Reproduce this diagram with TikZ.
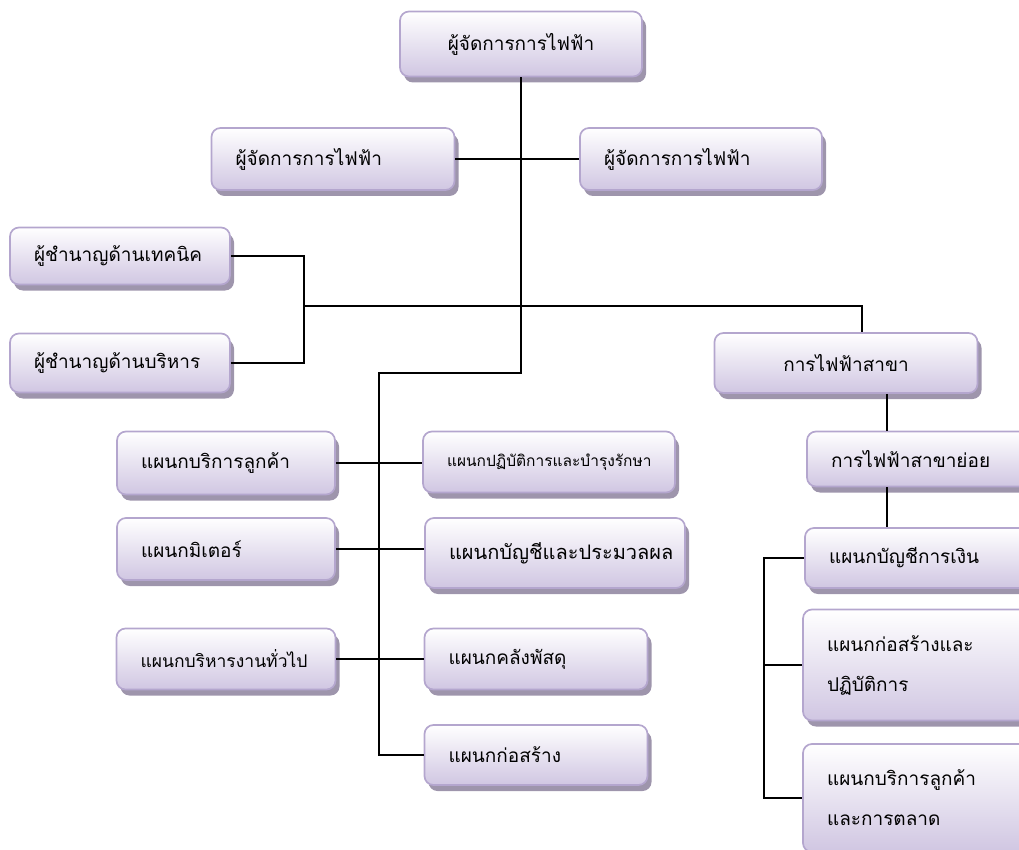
\documentclass[tikz,border=0pt]{standalone}
\usepackage{fontspec}
\newfontfamily\thaifont[Script=Thai]{Loma}
\usetikzlibrary{shadows, positioning}
\definecolor{unitedge}{RGB}{180,166,206}
\definecolor{unitlow}{RGB}{208,198,226}
\definecolor{unitshade}{RGB}{158,149,172}
\tikzstyle{unit} = [draw=unitedge, line width=1.7pt, rounded corners=9pt, top color=white, bottom color=unitlow, drop shadow={shadow xshift=4pt, shadow yshift=-6pt, fill=unitshade, opacity=1}, font=\thaifont\fontsize{19}{24}\selectfont, align=left, inner xsep=24pt, inner ysep=0pt]
\tikzstyle{link} = [draw=black, line width=1.9pt]

\begin{document}
\begin{tikzpicture}[x=1pt, y=-1pt]
  \useasboundingbox (0,0) rectangle (1019,850);
  \node[unit, align=center, text width=194, minimum height=65] (mgr) at (521,44) {ผู้จัดการการไฟฟ้า};
  \node[unit, text width=195, minimum height=62] (dmgrL) at (333,159) {ผู้จัดการการไฟฟ้า};
  \node[unit, text width=194, minimum height=62] (dmgrR) at (701,159) {ผู้จัดการการไฟฟ้า};
  \node[unit, text width=172, minimum height=57] (expT) at (120,256) {ผู้ชำนาญด้านเทคนิค};
  \node[unit, text width=172, minimum height=59] (expA) at (120,363) {ผู้ชำนาญด้านบริหาร};
  \node[unit, align=center, text width=215, minimum height=60] (branch) at (846,363) {การไฟฟ้าสาขา};
  \node[unit, text width=180, minimum height=55] (subbr) at (921,459) {การไฟฟ้าสาขาย่อย};
  \node[unit, text width=182, minimum height=60] (secAcc) at (920,558) {แผนกบัญชีการเงิน};
  \node[unit, text width=184, minimum height=111, font=\thaifont\fontsize{19}{40}\selectfont] (secCon) at (919,665) {แผนกก่อสร้างและ\\ปฏิบัติการ};
  \node[unit, text width=184, minimum height=108, font=\thaifont\fontsize{19}{40}\selectfont] (secSvc) at (919,798) {แผนกบริการลูกค้า\\และการตลาด};
  \node[unit, text width=170, minimum height=63] (deptCust) at (226,463) {แผนกบริการลูกค้า};
  \node[unit, text width=170, minimum height=62] (deptMeter) at (226,549) {แผนกมิเตอร์};
  \node[unit, text width=171, minimum height=61, font=\thaifont\fontsize{17.5}{22}\selectfont] (deptAdmin) at (226,659) {แผนกบริหารงานทั่วไป};
  \node[unit, text width=204, minimum height=61, font=\thaifont\fontsize{15.5}{20}\selectfont] (deptOps) at (549,462) {แผนกปฏิบัติการและบำรุงรักษา};
  \node[unit, text width=212, minimum height=70, font=\thaifont\fontsize{20}{24}\selectfont] (deptAcct) at (555,553) {แผนกบัญชีและประมวลผล};
  \node[unit, text width=175, minimum height=61] (deptStore) at (536,659) {แผนกคลังพัสดุ};
  \node[unit, text width=175, minimum height=60] (deptBuild) at (536,755) {แผนกก่อสร้าง};
  \coordinate (split) at (379,373);
  \coordinate (expbus) at (304,306);
  \coordinate (ridge) at (887,0);
  \coordinate (rail) at (764,0);
  \draw[link] (mgr.south) |- (split) -- (split |- deptBuild.west) -- (deptBuild.west);
  \draw[link] (dmgrL.east) -- (dmgrR.west);
  \draw[link] (expT.east) -| (expbus);
  \draw[link] (expA.east) -| (expbus);
  \draw[link] (expbus) -| ([xshift=16pt]branch.north);
  \draw[link] (branch.south -| ridge) -- (subbr.north -| ridge);
  \draw[link] (subbr.south -| ridge) -- (secAcc.north -| ridge);
  \draw[link] (secAcc.west) -| (rail |- secSvc.west) -- (secSvc.west);
  \draw[link] (secCon.west) -- (rail |- secCon.west);
  \draw[link] (deptCust.east) -- (deptCust.east -| deptOps.west);
  \draw[link] (deptMeter.east) -- (deptMeter.east -| deptAcct.west);
  \draw[link] (deptAdmin.east) -- (deptAdmin.east -| deptStore.west);
\end{tikzpicture}
\end{document}
